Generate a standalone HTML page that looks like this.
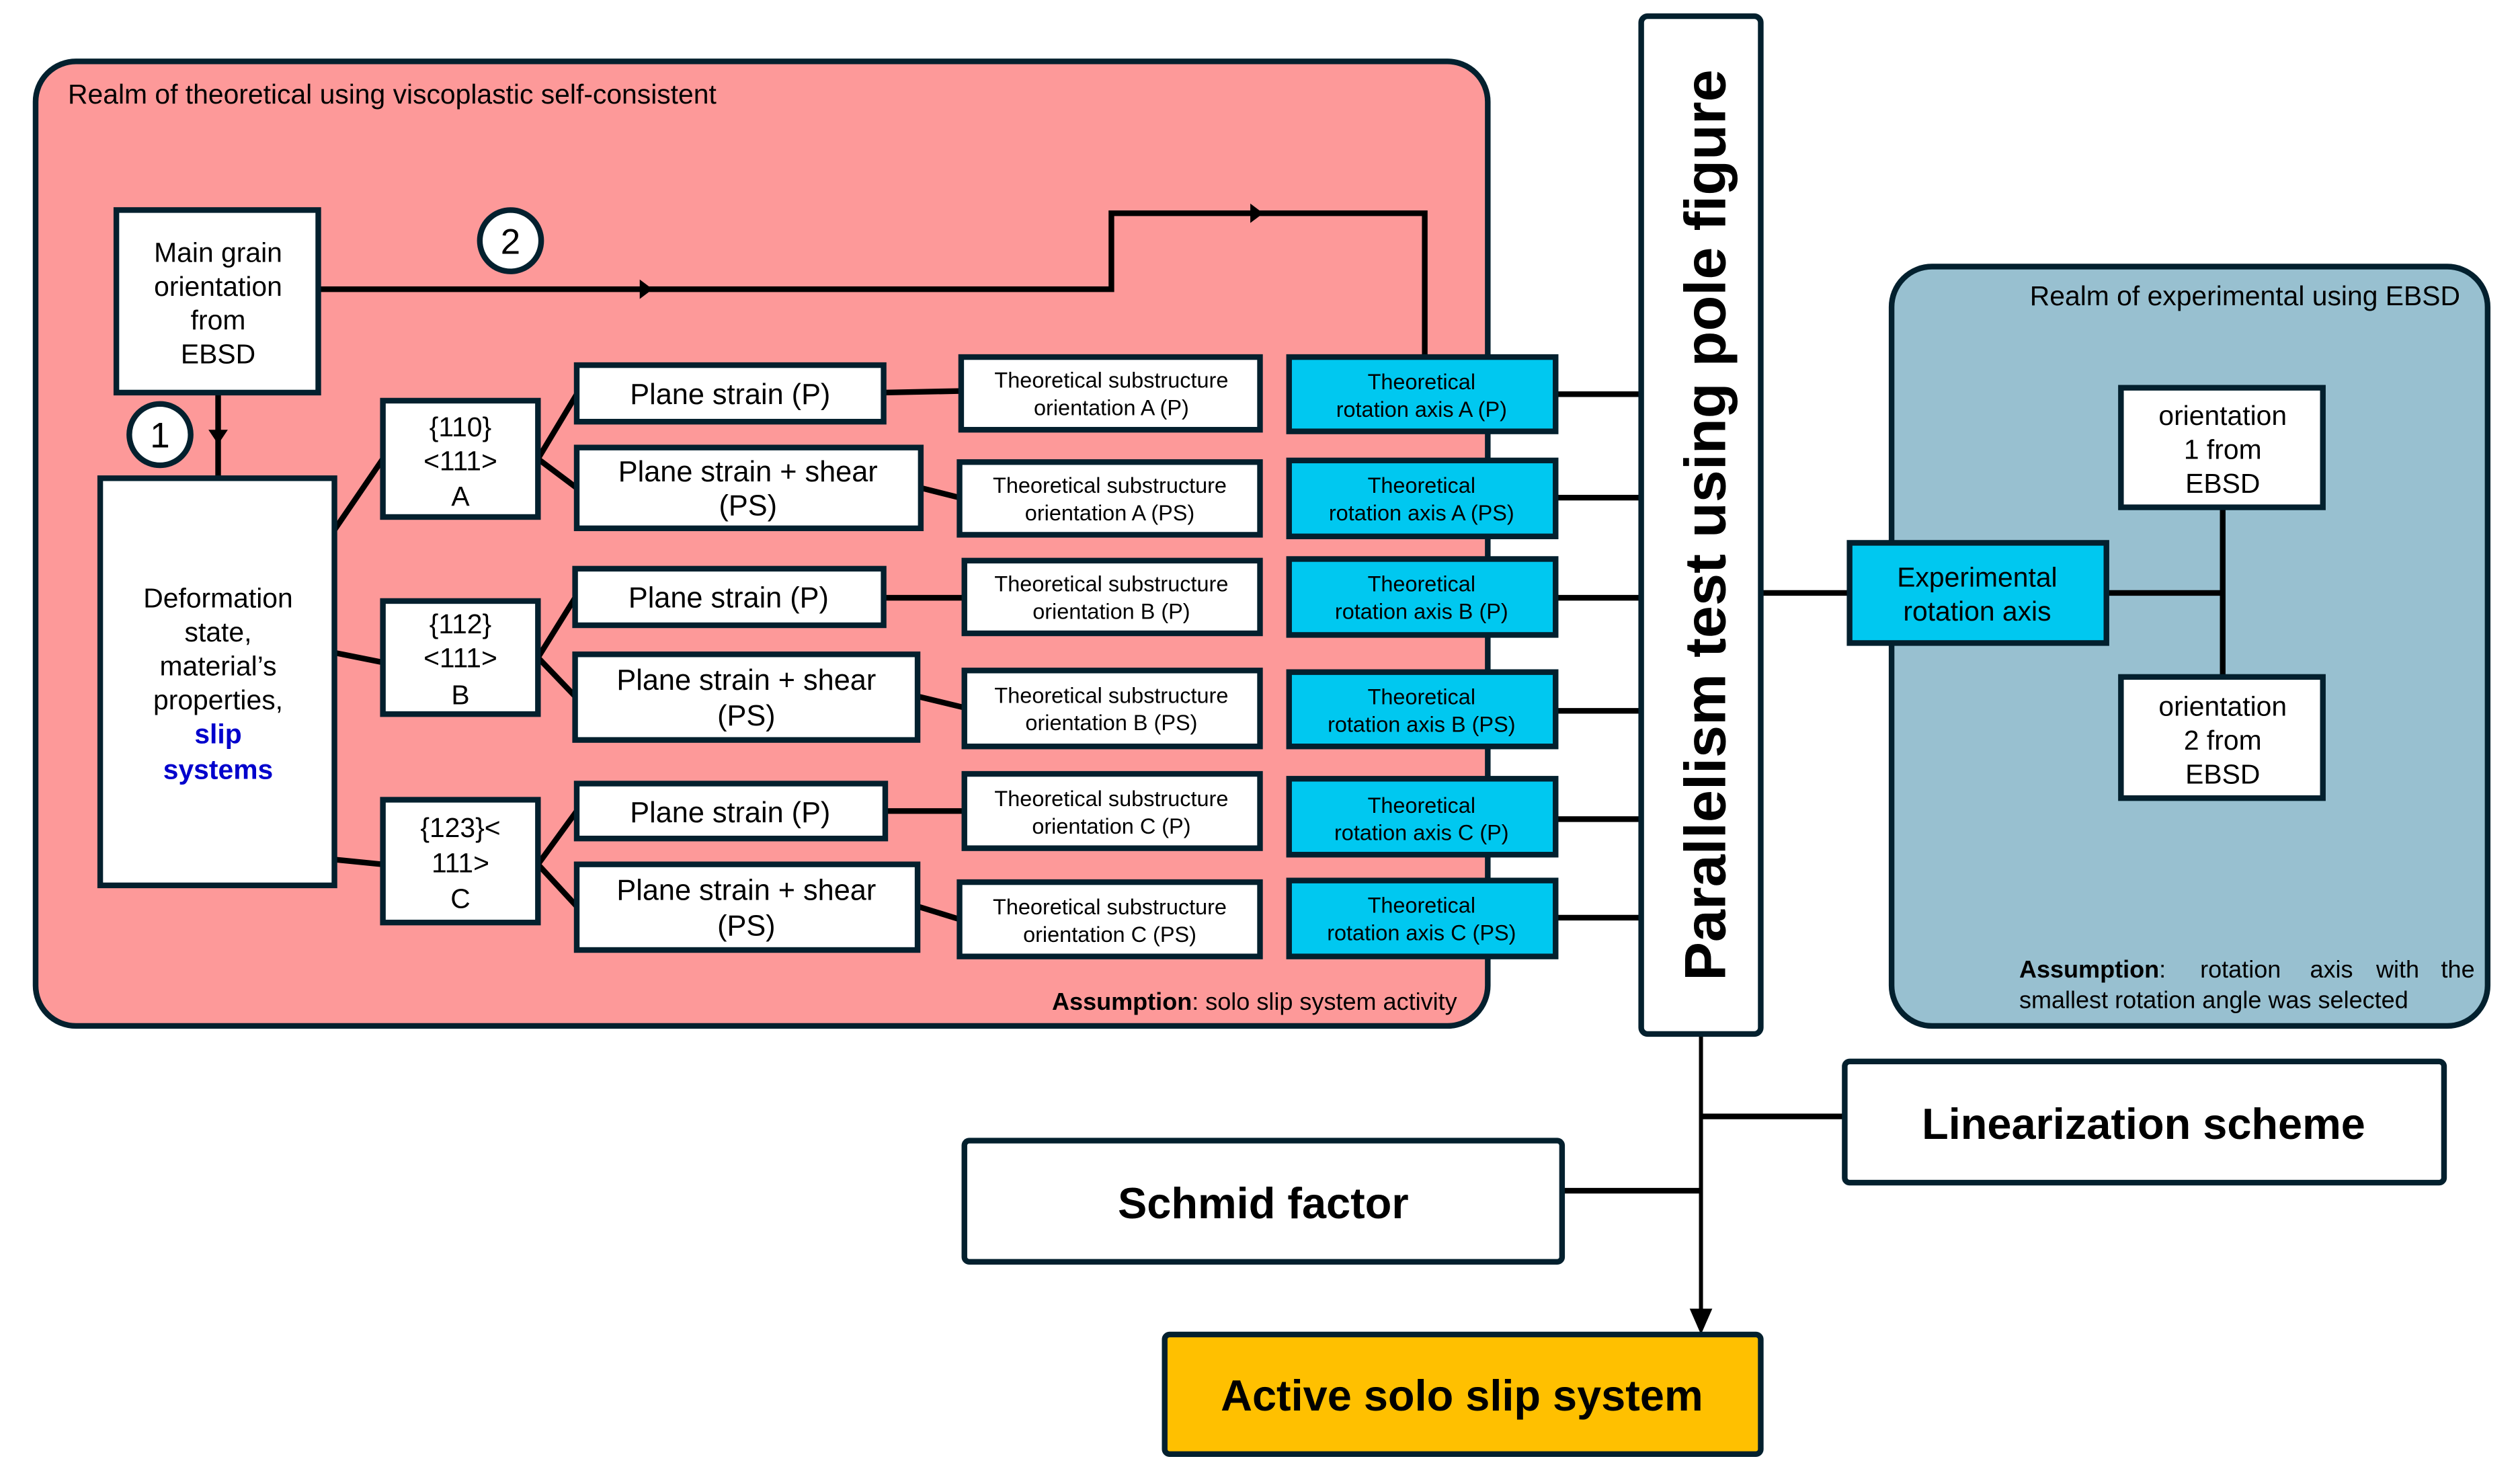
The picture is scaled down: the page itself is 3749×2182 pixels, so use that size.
<!DOCTYPE html>
<html><head><meta charset="utf-8"><style>
html,body{margin:0;padding:0;background:#fff;width:3749px;height:2182px;overflow:hidden}
svg{display:block}
text{font-family:"Liberation Sans",Arial,sans-serif;fill:#000}
</style></head><body>
<svg width="3749" height="2182" viewBox="0 0 1560 908" xmlns="http://www.w3.org/2000/svg">
<rect width="1560" height="908" fill="#fff"/>
<rect x="22" y="38" width="899" height="597" rx="25" fill="#fd9999" stroke="#03202e" stroke-width="3.5"/>
<text x="42" y="64" font-size="17">Realm of theoretical using viscoplastic self-consistent</text>
<rect x="1171" y="165" width="369" height="470" rx="25" fill="#98c0d0" stroke="#03202e" stroke-width="3.5"/>
<text x="1523" y="189" font-size="17" text-anchor="end">Realm of experimental using EBSD</text>

<g stroke="#000" stroke-width="3.5" fill="none">
<path d="M197,179 H688 V132 H882 V220"/>
<path d="M135,243 V296"/>
<path d="M207,328 L237,284"/>
<path d="M207,404 L237,410"/>
<path d="M207,532 L237,535"/>
<path d="M333,284 L357,244 M333,284 L357,302"/>
<path d="M333,407 L356,370 M333,407 L356,431"/>
<path d="M333,535 L357,502 M333,535 L357,561"/>
<path d="M547,243 L595,242 M570,302 L594,308 M547,370 L597,370 M568,431 L597,438 M548,502 L597,502 M568,561 L594,569"/>
<path d="M963,244 H1016 M963,308 H1016 M963,370 H1016 M963,440 H1016 M963,507 H1016 M963,568 H1016"/>
<path d="M1090,367 H1145 M1304,367 H1376 M1376,314 V419"/>
<path d="M1053,691 H1142 M968,737 H1053"/>
</g>
<path d="M1053,640 V812" stroke="#000" stroke-width="2.5"/>
<path d="M1046,810 L1060,810 L1053,826 z" fill="#000"/>
<path d="M396,173 L404,179 L396,185 z" fill="#000"/>
<path d="M774,126 L782,132 L774,138 z" fill="#000"/>
<path d="M129,266 L141,266 L135,275 z" fill="#000"/>

<g stroke="#03202e" stroke-width="3.5">
<rect x="72" y="130" width="125" height="113" fill="#fff"/>
<rect x="62" y="296" width="145" height="252" fill="#fff"/>
<rect x="237" y="248" width="96" height="72" fill="#fff"/>
<rect x="237" y="372" width="96" height="70" fill="#fff"/>
<rect x="237" y="495" width="96" height="76" fill="#fff"/>
<rect x="357" y="226" width="190" height="35" fill="#fff"/>
<rect x="357" y="277" width="213" height="50" fill="#fff"/>
<rect x="356" y="352" width="191" height="35" fill="#fff"/>
<rect x="356" y="405" width="212" height="53" fill="#fff"/>
<rect x="357" y="485" width="191" height="34" fill="#fff"/>
<rect x="357" y="535" width="211" height="53" fill="#fff"/>
<rect x="595" y="221" width="185" height="45" fill="#fff"/>
<rect x="594" y="286" width="186" height="45" fill="#fff"/>
<rect x="597" y="347" width="183" height="45" fill="#fff"/>
<rect x="597" y="415" width="183" height="47" fill="#fff"/>
<rect x="597" y="479" width="183" height="46" fill="#fff"/>
<rect x="594" y="546" width="186" height="46" fill="#fff"/>
<rect x="798" y="221" width="165" height="46" fill="#00c8f0"/>
<rect x="798" y="285" width="165" height="47" fill="#00c8f0"/>
<rect x="798" y="346" width="165" height="47" fill="#00c8f0"/>
<rect x="798" y="416" width="165" height="46" fill="#00c8f0"/>
<rect x="798" y="482" width="165" height="47" fill="#00c8f0"/>
<rect x="798" y="545" width="165" height="47" fill="#00c8f0"/>
<rect x="1016" y="10" width="74" height="630" rx="4" fill="#fff"/>
<rect x="1145" y="336" width="159" height="62" fill="#00c8f0"/>
<rect x="1313" y="240" width="125" height="74" fill="#fff"/>
<rect x="1313" y="419" width="125" height="75" fill="#fff"/>
<rect x="1142" y="657" width="371" height="75" rx="3" fill="#fff"/>
<rect x="597" y="706" width="370" height="75" rx="3" fill="#fff"/>
<rect x="721" y="826" width="369" height="74" rx="3" fill="#ffc000"/>
<circle cx="316" cy="149" r="19" fill="#fff"/>
<circle cx="99" cy="269" r="19" fill="#fff"/>
</g>

<g font-size="17" text-anchor="middle">
<text x="316" y="157" font-size="22">2</text>
<text x="99" y="277" font-size="22">1</text>
<text x="135" y="162">Main grain</text><text x="135" y="183">orientation</text><text x="135" y="204">from</text><text x="135" y="225">EBSD</text>
<text x="135" y="376">Deformation</text><text x="135" y="397">state,</text><text x="135" y="418">material’s</text><text x="135" y="439">properties,</text>
<text x="135" y="460" style="fill:#0000cc" font-weight="bold">slip</text><text x="135" y="482" style="fill:#0000cc" font-weight="bold">systems</text>
<text x="285" y="270">{110}</text><text x="285" y="291">&lt;111&gt;</text><text x="285" y="313">A</text>
<text x="285" y="392">{112}</text><text x="285" y="413">&lt;111&gt;</text><text x="285" y="436">B</text>
<text x="285" y="518">{123}&lt;</text><text x="285" y="540">111&gt;</text><text x="285" y="562">C</text>
<g font-size="18">
<text x="452" y="250">Plane strain (P)</text>
<text x="463" y="298">Plane strain + shear</text><text x="463" y="319">(PS)</text>
<text x="451" y="376">Plane strain (P)</text>
<text x="462" y="427">Plane strain + shear</text><text x="462" y="449">(PS)</text>
<text x="452" y="509">Plane strain (P)</text>
<text x="462" y="557">Plane strain + shear</text><text x="462" y="579">(PS)</text>
</g>
<g font-size="13.5">
<text x="688" y="240">Theoretical substructure</text><text x="688" y="257">orientation A (P)</text>
<text x="687" y="305">Theoretical substructure</text><text x="687" y="322">orientation A (PS)</text>
<text x="688" y="366">Theoretical substructure</text><text x="688" y="383">orientation B (P)</text>
<text x="688" y="435">Theoretical substructure</text><text x="688" y="452">orientation B (PS)</text>
<text x="688" y="499">Theoretical substructure</text><text x="688" y="516">orientation C (P)</text>
<text x="687" y="566">Theoretical substructure</text><text x="687" y="583">orientation C (PS)</text>
<text x="880" y="241">Theoretical</text><text x="880" y="258">rotation axis A (P)</text>
<text x="880" y="305">Theoretical</text><text x="880" y="322">rotation axis A (PS)</text>
<text x="880" y="366">Theoretical</text><text x="880" y="383">rotation axis B (P)</text>
<text x="880" y="436">Theoretical</text><text x="880" y="453">rotation axis B (PS)</text>
<text x="880" y="503">Theoretical</text><text x="880" y="520">rotation axis C (P)</text>
<text x="880" y="565">Theoretical</text><text x="880" y="582">rotation axis C (PS)</text>
</g>
<text x="1224" y="363">Experimental</text><text x="1224" y="384">rotation axis</text>
<text x="1376" y="263">orientation</text><text x="1376" y="284">1 from</text><text x="1376" y="305">EBSD</text>
<text x="1376" y="443">orientation</text><text x="1376" y="464">2 from</text><text x="1376" y="485">EBSD</text>
<g font-size="27" font-weight="bold">
<text x="1327" y="705">Linearization scheme</text>
<text x="782" y="754">Schmid factor</text>
<text x="905" y="873">Active solo slip system</text>
</g>
<text transform="translate(1068,325) rotate(-90)" font-size="36" font-weight="bold">Parallelism test using pole figure</text>
</g>
<text x="902" y="625" font-size="15" text-anchor="end"><tspan font-weight="bold">Assumption</tspan>: solo slip system activity</text>
<g font-size="15">
<text x="1250" y="605"><tspan font-weight="bold">Assumption</tspan>:</text>
<text x="1362" y="605">rotation</text>
<text x="1430" y="605">axis</text>
<text x="1471" y="605">with</text>
<text x="1532" y="605" text-anchor="end">the</text>
<text x="1250" y="624">smallest rotation angle was selected</text>
</g>
</svg>
</body></html>
